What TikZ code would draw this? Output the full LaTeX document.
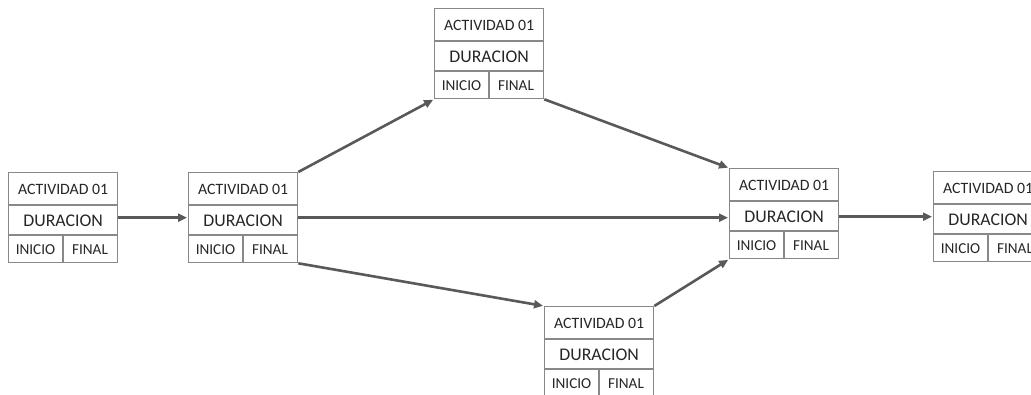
\documentclass[tikz,border=0pt]{standalone}
\usepackage{fontspec}
\setmainfont{Carlito}
\usetikzlibrary{arrows.meta}
\definecolor{boxgray}{HTML}{888888}
\definecolor{arrgray}{HTML}{595959}
\definecolor{txtcol}{HTML}{262626}
\tikzset{
  actbox/.style={draw=boxgray, line width=1.3pt, rectangle, minimum width=109pt, minimum height=90pt, inner sep=0pt, anchor=north west},
  divline/.style={draw=boxgray, line width=1.3pt},
  titletxt/.style={font=\fontsize{15.8}{16}\selectfont, text=txtcol, inner sep=0pt},
  durtxt/.style={font=\fontsize{17.8}{18}\selectfont, text=txtcol, inner sep=0pt},
  smalltxt/.style={font=\fontsize{15.2}{16}\selectfont, text=txtcol, inner sep=0pt},
  conn/.style={draw=arrgray, line width=2.6pt, -{Triangle[length=9pt,width=8pt]}, shorten >=1pt}
}
\newcommand{\actividad}[3]{%
  \node[actbox] (#1) at (#2,#3) {};
  \draw[divline] ([yshift=-33pt]#1.north west) -- ([yshift=-33pt]#1.north east);
  \draw[divline] ([yshift=-63pt]#1.north west) -- ([yshift=-63pt]#1.north east);
  \draw[divline] ([xshift=55pt,yshift=-63pt]#1.north west) -- ([xshift=55pt]#1.south west);
  \node[titletxt] (#1-t) at ([yshift=-17pt]#1.north) {ACTIVIDAD 01};
  \node[durtxt] (#1-d) at ([yshift=-48.5pt]#1.north) {DURACION};
  \node[smalltxt] (#1-i) at ([xshift=27.5pt,yshift=13.5pt]#1.south west) {INICIO};
  \node[smalltxt] (#1-f) at ([xshift=82pt,yshift=13.5pt]#1.south west) {FINAL};
}
\begin{document}
\begin{tikzpicture}[x=1pt,y=-1pt]
\useasboundingbox (0,0) rectangle (1031,394);
\clip (0,0) rectangle (1031,394);
\actividad{a1}{8}{172}
\actividad{a2}{188}{172}
\actividad{at}{434}{8}
\actividad{ab}{544}{306}
\actividad{ar}{729}{168}
\actividad{af}{933}{171}
\draw[conn] (a1.east) -- (a2.west);
\draw[conn] (a2.north east) -- (at.south west);
\draw[conn] (at.south east) -- (ar.north west);
\draw[conn] (a2.east) -- (a2.east -| ar.west);
\draw[conn] (a2.south east) -- (ab.north west);
\draw[conn] (ab.north east) -- (ar.south west);
\draw[conn] (af.west -| ar.east) -- (af.west);
\end{tikzpicture}
\end{document}
